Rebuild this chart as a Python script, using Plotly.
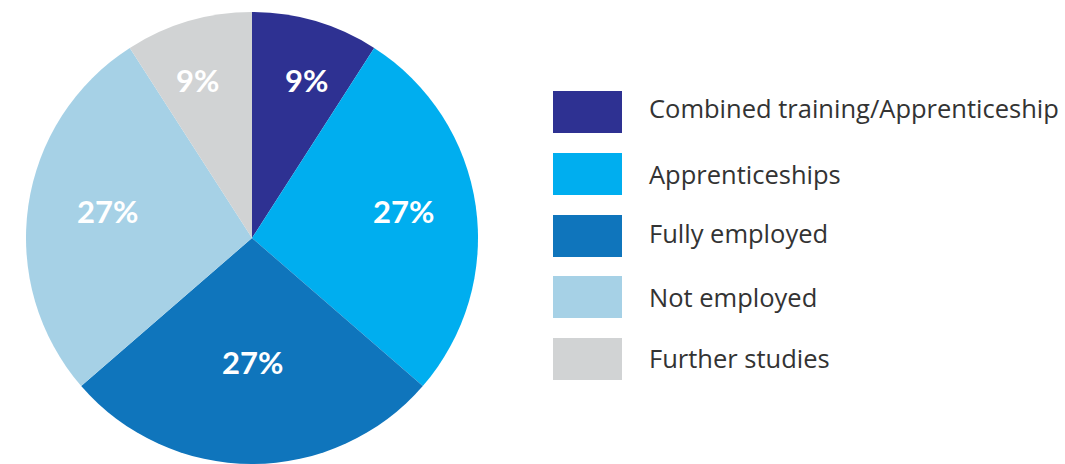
import plotly.graph_objects as go

# Post-programme destinations (share of participants)
categories = [
    "Combined training/Apprenticeship",
    "Apprenticeships",
    "Fully employed",
    "Not employed",
    "Further studies",
]
shares = [9, 27, 27, 27, 9]
colors = ["#2e3192", "#00aeef", "#0f75bc", "#a6d1e6", "#d1d3d4"]

W, H = 1065, 464
cx, cy, r = 252, 238, 226  # pie centre / radius in pixels

fig = go.Figure()
fig.add_trace(go.Pie(
    labels=categories,
    values=shares,
    marker=dict(colors=colors, line=dict(width=0)),
    sort=False,
    direction="clockwise",
    rotation=0,
    textinfo="none",
    showlegend=False,
    hoverinfo="label+percent",
    domain=dict(
        x=[(cx - r) / W, (cx + r) / W],
        y=[max(0.0, (H - cy - r) / H), min(1.0, (H - cy + r) / H)],
    ),
))

annotations = []

# Percentage labels inside the slices (pixel positions of each label)
label_pos = [(306, 80), (403, 211), (252, 362), (107, 211), (197, 80)]
total = sum(shares)
for v, (px, py) in zip(shares, label_pos):
    annotations.append(dict(
        xref="paper", yref="paper",
        x=px / W, y=(H - py) / H,
        xanchor="center", yanchor="middle",
        text=f"{round(100 * v / total)}%", showarrow=False,
        font=dict(family="Lato", size=31, color="white", weight="bold"),
    ))

# Custom legend: large swatches with labels to the right
sw_x0, sw_x1 = 553, 622
sw_h = 42
row_top = [91, 153, 215, 276, 338]
text_mid = [108, 174, 233, 297, 358]
shapes = []
for name, col, top, ty in zip(categories, colors, row_top, text_mid):
    shapes.append(dict(
        type="rect", xref="paper", yref="paper",
        x0=sw_x0 / W, x1=sw_x1 / W,
        y0=(H - top - sw_h) / H, y1=(H - top) / H,
        fillcolor=col, line=dict(width=0),
    ))
    annotations.append(dict(
        xref="paper", yref="paper",
        x=647 / W, y=(H - ty) / H,
        xanchor="left", yanchor="middle",
        text=name, showarrow=False,
        font=dict(family="Open Sans", size=25.5, color="#333333"),
    ))

fig.update_layout(
    width=W, height=H,
    margin=dict(l=0, r=0, t=0, b=0),
    paper_bgcolor="white",
    plot_bgcolor="white",
    shapes=shapes,
    annotations=annotations,
)

fig.write_html("out.html")
